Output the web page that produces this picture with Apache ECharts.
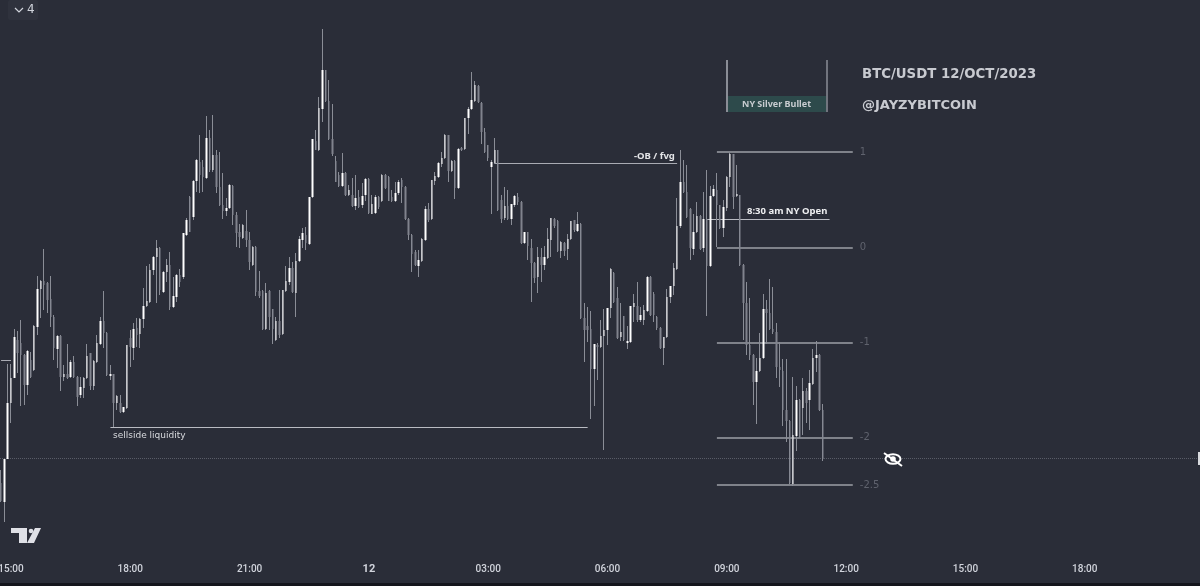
<!DOCTYPE html>
<html>
<head>
<meta charset="utf-8">
<title>BTC/USDT 12/OCT/2023</title>
<style>
html, body { margin: 0; padding: 0; background: #2a2d38; }
#chart { width: 1200px; height: 586px; }
</style>
<script src="https://cdn.jsdelivr.net/npm/echarts@6/dist/echarts.min.js"></script>
</head>
<body>
<div id="chart"></div>
<script>
// 5 minute candles
var opens = [
26517,26498,26541,26597,26622,26660,26657,26645,26615,26640,
26630,26673,26711,26719,26717,26701,26683,26651,26664,26623,
26626,26623,26638,26623,26605,26612,26622,26647,26614,26638,
26656,26679,26667,26624,26626,26597,26597,26588,26592,26662,
26652,26672,26666,26681,26694,26698,26730,26743,26752,26708,
26728,26735,26693,26703,26725,26723,26765,26803,26783,26819,
26838,26833,26822,26862,26830,26845,26813,26795,26789,26792,
26814,26785,26768,26762,26769,26760,26735,26753,26709,26709,
26671,26709,26691,26660,26679,26666,26709,26718,26732,26707,
26739,26760,26765,26756,26803,26859,26850,26891,26930,26899,
26861,26839,26825,26814,26827,26805,26805,26794,26803,26795,
26805,26821,26786,26787,26803,26799,26825,26823,26803,26799,
26807,26820,26813,26781,26765,26748,26734,26739,26760,26791,
26781,26819,26823,26836,26842,26865,26829,26839,26812,26852,
26851,26882,26891,26899,26914,26897,26868,26855,26833,26837,
26850,26800,26782,26794,26781,26795,26803,26798,26757,26768,
26752,26737,26723,26743,26735,26742,26760,26781,26779,26749,
26757,26751,26761,26780,26769,26776,26682,26674,26671,26631,
26655,26653,26664,26670,26692,26727,26702,26663,26684,26657,
26658,26693,26694,26680,26680,26689,26723,26706,26683,26672,
26652,26663,26703,26714,26731,26774,26818,26808,26791,26751,
26768,26784,26752,26781,26734,26804,26810,26795,26772,26792,
26823,26846,26804,26805,26735,26697,26655,26645,26618,26629,
26642,26691,26687,26671,26668,26633,26629,26590,26579,26516,
26564,26600,26592,26609,26600,26616,26642,26645,26590
];
var closes = [
26499,26541,26597,26622,26663,26647,26645,26615,26649,26623,
26674,26711,26719,26715,26700,26683,26652,26664,26623,26626,
26622,26638,26623,26603,26613,26622,26644,26614,26639,26657,
26679,26667,26625,26626,26597,26604,26588,26593,26655,26653,
26671,26665,26681,26694,26699,26730,26743,26752,26710,26728,
26735,26693,26704,26725,26718,26767,26780,26768,26819,26840,
26825,26823,26862,26830,26845,26813,26795,26789,26792,26815,
26785,26767,26763,26775,26760,26738,26753,26708,26704,26671,
26707,26683,26671,26679,26665,26710,26719,26732,26708,26739,
26761,26767,26757,26803,26861,26850,26892,26930,26899,26861,
26846,26818,26814,26827,26805,26810,26794,26802,26793,26804,
26821,26787,26796,26803,26793,26825,26812,26799,26799,26807,
26818,26813,26781,26765,26746,26735,26740,26761,26791,26780,
26820,26824,26837,26842,26865,26829,26839,26812,26851,26850,
26882,26891,26900,26915,26898,26868,26848,26842,26838,26850,
26790,26781,26794,26781,26796,26804,26798,26757,26768,26754,
26737,26722,26743,26735,26743,26761,26782,26774,26749,26758,
26749,26761,26779,26770,26776,26682,26670,26670,26631,26656,
26653,26664,26670,26692,26731,26698,26662,26668,26660,26659,
26694,26697,26680,26685,26690,26723,26685,26685,26672,26652,
26663,26703,26714,26732,26774,26818,26808,26783,26752,26768,
26784,26751,26781,26734,26804,26811,26795,26772,26793,26823,
26846,26803,26806,26735,26697,26655,26645,26618,26629,26642,
26691,26687,26671,26668,26633,26630,26590,26579,26517,26565,
26600,26563,26609,26597,26617,26642,26645,26590,26541
];
var lows = [
26498,26478,26541,26577,26622,26627,26594,26595,26605,26622,
26629,26665,26682,26690,26687,26673,26640,26632,26609,26619,
26621,26622,26622,26594,26602,26602,26621,26610,26610,26637,
26655,26652,26624,26620,26573,26590,26587,26587,26591,26633,
26640,26653,26652,26672,26693,26697,26725,26697,26705,26707,
26718,26690,26692,26698,26713,26721,26764,26768,26780,26808,
26807,26808,26821,26828,26828,26807,26794,26781,26784,26791,
26775,26753,26752,26761,26753,26730,26734,26704,26702,26670,
26670,26670,26656,26659,26662,26665,26708,26715,26707,26683,
26738,26752,26750,26755,26802,26850,26849,26878,26898,26860,
26844,26818,26813,26813,26804,26804,26793,26790,26792,26792,
26799,26786,26786,26786,26791,26798,26811,26799,26798,26798,
26805,26797,26780,26760,26728,26734,26723,26738,26759,26778,
26780,26815,26822,26833,26841,26818,26828,26801,26811,26849,
26850,26866,26890,26898,26897,26856,26847,26839,26786,26836,
26789,26777,26780,26780,26775,26793,26795,26756,26756,26740,
26698,26717,26707,26718,26730,26741,26743,26772,26748,26742,
26744,26740,26760,26768,26768,26681,26638,26658,26581,26594,
26620,26652,26550,26655,26682,26697,26661,26659,26659,26651,
26657,26678,26678,26678,26675,26688,26684,26678,26670,26651,
26635,26662,26697,26705,26730,26772,26807,26782,26740,26745,
26767,26750,26748,26684,26733,26803,26753,26771,26763,26789,
26813,26791,26803,26734,26660,26645,26640,26595,26576,26628,
26641,26656,26670,26666,26622,26613,26574,26558,26516,26514,
26549,26562,26565,26577,26570,26615,26628,26589,26539
];
var highs = [
26530,26541,26636,26636,26671,26669,26680,26646,26650,26648,
26675,26724,26720,26751,26718,26724,26685,26665,26665,26635,
26656,26640,26644,26624,26623,26623,26656,26647,26640,26665,
26683,26709,26668,26635,26626,26605,26605,26593,26655,26670,
26677,26682,26682,26712,26734,26736,26744,26760,26753,26729,
26741,26748,26723,26726,26731,26767,26782,26804,26820,26841,
26865,26840,26884,26870,26885,26850,26848,26827,26802,26816,
26815,26788,26776,26776,26790,26768,26754,26754,26729,26710,
26717,26710,26691,26683,26710,26710,26734,26743,26738,26747,
26764,26772,26773,26803,26861,26870,26903,26971,26930,26920,
26896,26844,26828,26847,26828,26815,26822,26825,26810,26817,
26822,26822,26805,26805,26804,26826,26826,26824,26810,26818,
26820,26822,26814,26782,26766,26750,26750,26762,26794,26797,
26820,26828,26838,26848,26866,26865,26840,26840,26852,26853,
26882,26893,26928,26919,26915,26898,26872,26855,26840,26862,
26850,26805,26813,26810,26796,26805,26807,26799,26768,26768,
26761,26738,26753,26752,26754,26772,26782,26782,26780,26759,
26758,26766,26779,26780,26788,26777,26697,26693,26689,26656,
26657,26680,26691,26692,26732,26728,26713,26697,26684,26674,
26694,26706,26718,26693,26695,26724,26724,26708,26684,26673,
26663,26711,26714,26737,26802,26850,26840,26835,26792,26786,
26798,26785,26808,26830,26814,26815,26827,26795,26800,26824,
26847,26846,26835,26805,26736,26718,26702,26646,26642,26667,
26706,26700,26721,26713,26677,26658,26641,26641,26580,26623,
26614,26601,26622,26612,26630,26651,26659,26646,26596
];

// fib tool around the silver bullet
var fibLabels = ["1", "0", "-1", "-2", "-2.5"];
var fibPrices = [26848, 26752.5, 26657.5, 26562.5, 26515];

var sellsidePrice = 26573;
var obPrice = 26837;
var openPrice = 26781;
var lastPrice = 26541.3;
var oldLevelPrice = 26640;

// time labels
var times = [];
for (var m = 14 * 60 + 45, n = 0; n < 362; n++, m += 5) {
    var h = Math.floor(m / 60) % 24;
    var mm = m % 60;
    times.push((h < 10 ? "0" : "") + h + ":" + (mm < 10 ? "0" : "") + mm);
}

var fontName = '"DejaVu Sans", sans-serif';
var noteFont = '"Noto Sans", sans-serif';
var gridColor = "#7f828a";
var bg = "#2a2d38";

var wickData = opens.map(function (o, i) {
    return [o, closes[i], lows[i], highs[i]];
});
var bodyData = opens.map(function (o, i) {
    return [o, closes[i], Math.min(o, closes[i]), Math.max(o, closes[i])];
});

function seg(k1, k2, p1, p2, color, width, label) {
    var style = { color: color, width: width, type: "solid" };
    return [
        { xAxis: k1, yAxis: p1, lineStyle: style, label: label || { show: false } },
        { xAxis: k2, yAxis: p2 }
    ];
}

var lines = [];
fibPrices.forEach(function (p, i) {
    lines.push(seg(216, 257, p, p, gridColor, 2, {
        show: true,
        position: "end",
        distance: 7,
        formatter: fibLabels[i],
        color: "#5f626d",
        fontSize: 10,
        fontFamily: fontName
    }));
});
lines.push(seg(33, 177, sellsidePrice, sellsidePrice, "#b9bbc2", 1));
lines.push(seg(149, 204, obPrice, obPrice, "#a9abb3", 1));
lines.push(seg(213, 250, openPrice, openPrice, "#b9bbc2", 1));
lines.push(seg(0, 3, oldLevelPrice, oldLevelPrice, "#a9abb3", 1));
// silver bullet window
lines.push(seg(219, 219, 26888, 26940, "#8a8d96", 2));
lines.push(seg(249, 249, 26888, 26940, "#8a8d96", 1.5));
lines.push([
    { yAxis: lastPrice, x: 0, lineStyle: { color: "#595c67", width: 1, type: "dotted" }, label: { show: false } },
    { yAxis: lastPrice, x: 1200 }
]);

function txt(x, y, s, size, color, weight, font) {
    return {
        type: "text",
        silent: true,
        z: 20,
        style: {
            x: x, y: y, text: s,
            fontFamily: font || fontName,
            fontSize: size,
            fontWeight: weight || "normal",
            fill: color,
            verticalAlign: "middle"
        }
    };
}

var myChart = echarts.init(document.getElementById("chart"));
var option = {
    animation: false,
    backgroundColor: bg,
    grid: { left: -0.6, top: 0, width: 1199.7, height: 555, outerBoundsMode: "none" },
    xAxis: {
        type: "category",
        data: times,
        boundaryGap: true,
        axisLine: { show: false },
        axisTick: { show: false },
        splitLine: { show: false },
        axisLabel: {
            color: "#d1d4dc",
            fontSize: 10,
            fontWeight: 500,
            margin: 9,
            fontFamily: "Roboto, sans-serif",
            hideOverlap: false,
            interval: function (idx, val) {
                return val.slice(3) == "00" && parseInt(val, 10) % 3 == 0;
            },
            formatter: function (val) {
                return val == "00:00" ? "{day|12}" : val;
            },
            rich: {
                day: { color: "#d1d4dc", fontSize: 11, fontWeight: "bold", fontFamily: "Roboto, sans-serif" }
            }
        }
    },
    yAxis: {
        type: "value",
        show: false,
        min: 26445,
        max: 27000,
        splitLine: { show: false }
    },
    series: [{
        name: "wick",
        type: "candlestick",
        z: 3,
        barWidth: 1,
        data: wickData,
        itemStyle: {
            color: "#8a8d96",
            color0: "#8a8d96",
            borderColor: "#8a8d96",
            borderColor0: "#8a8d96",
            borderWidth: 1
        },
        markLine: {
            z: 1,
            silent: true,
            symbol: "none",
            data: lines
        },
        markArea: {
            z: 1,
            silent: true,
            itemStyle: { color: "#2d4a4b" },
            label: {
                show: true,
                position: "inside",
                formatter: "NY Silver Bullet",
                color: "#c8ccd0",
                fontSize: 9,
                fontWeight: "bold",
                fontFamily: noteFont
            },
            data: [[{ xAxis: 219, yAxis: 26904 }, { xAxis: 249, yAxis: 26888 }]]
        }
    }, {
        name: "body",
        type: "candlestick",
        z: 4,
        barWidth: 2,
        data: bodyData,
        itemStyle: {
            color: "#ffffff",
            color0: "#80838d",
            borderColor: "#ffffff",
            borderColor0: "#80838d",
            borderWidth: 0
        }
    }],
    graphic: [
        // bottom strip
        { type: "rect", silent: true, z: 0, shape: { x: 0, y: 583, width: 1200, height: 3 }, style: { fill: "#14151c" } },
        // pane collapse button
        { type: "rect", silent: true, z: 0, shape: { x: 8, y: 0, width: 30, height: 20, r: 2 }, style: { fill: "#2f323d" } },
        { type: "polyline", silent: true, z: 20, shape: { points: [[15, 8], [19, 12], [23, 8]] }, style: { stroke: "#d1d4dc", lineWidth: 1.2, fill: null } },
        txt(27, 10, "4", 12, "#d1d4dc"),
        txt(862, 74.5, "BTC/USDT 12/OCT/2023", 13.3, "#c8cad0", "bold"),
        txt(862, 105.5, "@JAYZYBITCOIN", 13, "#c8cad0", "bold"),
        txt(113, 436, "sellside liquidity", 9, "#d8dade"),
        txt(634, 156, "-OB / fvg", 9.5, "#e4e5e8", "bold", noteFont),
        txt(747, 211, "8:30 am NY Open", 9.5, "#eeeff1", "bold", noteFont),
        // tradingview logo
        { type: "polygon", silent: true, z: 20, shape: { points: [[11, 528], [27, 528], [27, 543], [19, 543], [19, 533], [11, 533]] }, style: { fill: "#dfe0e6" } },
        { type: "polygon", silent: true, z: 20, shape: { points: [[35, 528], [41, 528], [34, 543], [27, 543]] }, style: { fill: "#dfe0e6" } },
        { type: "circle", silent: true, z: 20, shape: { cx: 31, cy: 531, r: 2.3 }, style: { fill: "#dfe0e6" } },
        // hidden eye marker
        { type: "ellipse", silent: true, z: 20, shape: { cx: 893, cy: 459, rx: 7.5, ry: 4.8 }, style: { fill: bg, stroke: "#ffffff", lineWidth: 2 } },
        { type: "circle", silent: true, z: 20, shape: { cx: 893, cy: 459, r: 2.8 }, style: { fill: "#ffffff" } },
        { type: "line", silent: true, z: 20, shape: { x1: 884, y1: 453, x2: 902, y2: 466 }, style: { stroke: "#ffffff", lineWidth: 2 } },
        // price scale edge marker
        { type: "rect", silent: true, z: 20, shape: { x: 1198, y: 452, width: 2, height: 13 }, style: { fill: "#d8dade" } }
    ]
};
myChart.setOption(option);
</script>
</body>
</html>
